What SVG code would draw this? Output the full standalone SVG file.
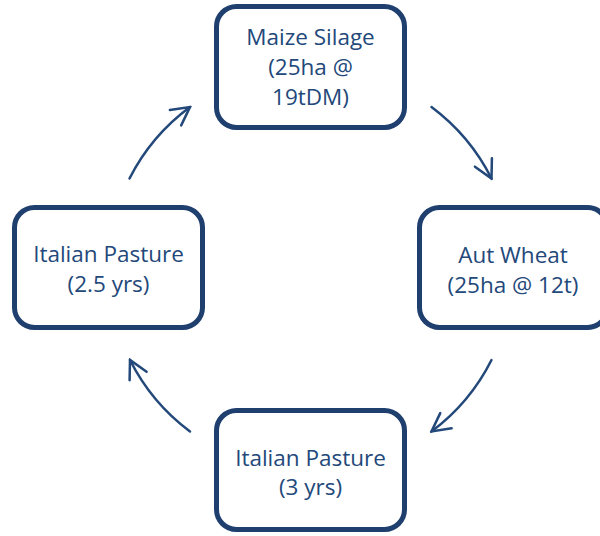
<svg xmlns="http://www.w3.org/2000/svg" width="600" height="536" viewBox="0 0 600 536">
  <style>
    .box { fill: #ffffff; stroke: #1f3f6e; stroke-width: 5; }
    .label { font-family: "Open Sans", "Noto Sans", sans-serif; font-size: 22.5px; fill: #23487a; text-anchor: middle; }
    .flow { fill: none; stroke: #23487a; stroke-width: 2.5; stroke-linecap: round; }
  </style>
  <defs>
    <marker id="openHead" markerUnits="userSpaceOnUse" viewBox="-20 -11 22 22" refX="0" refY="0" markerWidth="22" markerHeight="22" orient="auto">
      <path d="M -18 -9.5 L 0 0 L -18 9.5" fill="none" stroke="#23487a" stroke-width="2.5" stroke-linecap="round" stroke-linejoin="miter"/>
    </marker>
  </defs>
  <rect width="600" height="536" fill="#ffffff"/>

  <!-- cycle arrows: arcs of one circle around the middle -->
  <g id="connectors">
    <path class="flow" d="M 129.5 178.5 A 203 203 0 0 1 190 107" marker-end="url(#openHead)"/>
    <path class="flow" d="M 431.5 107 A 203 203 0 0 1 491.5 178.5" marker-end="url(#openHead)"/>
    <path class="flow" d="M 491.5 360 A 203 203 0 0 1 431.5 431.5" marker-end="url(#openHead)"/>
    <path class="flow" d="M 190 431.5 A 203 203 0 0 1 130 360" marker-end="url(#openHead)"/>
  </g>

  <g id="maize-silage">
    <rect class="box" x="216.5" y="6.5" width="188" height="121" rx="20"/>
    <text class="label" x="310.5" y="45">Maize Silage</text>
    <text class="label" x="310.5" y="75">(25ha @</text>
    <text class="label" x="310.5" y="105">19tDM)</text>
  </g>

  <g id="aut-wheat">
    <rect class="box" x="419.5" y="207.5" width="188" height="120" rx="20"/>
    <text class="label" x="513" y="263">Aut Wheat</text>
    <text class="label" x="513" y="293">(25ha @ 12t)</text>
  </g>

  <g id="italian-pasture-3">
    <rect class="box" x="216.5" y="410.5" width="188" height="119" rx="20"/>
    <text class="label" x="310.5" y="466">Italian Pasture</text>
    <text class="label" x="310.5" y="495">(3 yrs)</text>
  </g>

  <g id="italian-pasture-2-5">
    <rect class="box" x="14.5" y="207.5" width="188" height="120" rx="20"/>
    <text class="label" x="108.5" y="262">Italian Pasture</text>
    <text class="label" x="108.5" y="292">(2.5 yrs)</text>
  </g>
</svg>
